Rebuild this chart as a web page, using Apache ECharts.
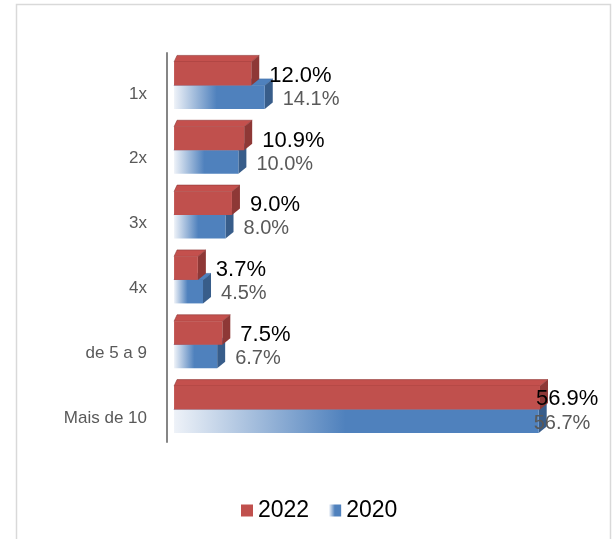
<!DOCTYPE html>
<html><head><meta charset="utf-8">
<script src="https://cdn.jsdelivr.net/npm/echarts@6/dist/echarts.min.js"></script>
<style>html,body{margin:0;padding:0;background:#fff}#c{width:612px;height:539px}</style>
</head><body><div id="c"></div>
<script>
const categories = ['1x', '2x', '3x', '4x', 'de 5 a 9', 'Mais de 10'];
const values2022 = [12.0, 10.9, 9.0, 3.7, 7.5, 56.9];
const values2020 = [14.1, 10.0, 8.0, 4.5, 6.7, 56.7];
const seriesNames = ['2022', '2020'];

const BAR_W = 23.5;
const FONT = '"Liberation Sans", Arial, sans-serif';

const redFront = '#C0504D', redTop = '#C4504D', redSide = '#8E3836';
const blueFront = '#4F81BD', blueTop = '#4F81BD', blueSide = '#385D8A';
const blueGrad = new echarts.graphic.LinearGradient(0, 0, 1, 0, [
  {offset: 0, color: '#eef2f8'},
  {offset: 0.47, color: blueFront},
  {offset: 1, color: blueFront}
]);

function faces(values, upper, topColor, sideColor, edgeColor) {
  return function (params, api) {
    const idx = params.dataIndex;
    const v = values[idx];
    const c0 = api.coord([0, idx]);
    const c1 = api.coord([v, idx]);
    const y0 = upper ? c0[1] - BAR_W : c0[1];
    const y1 = y0 + BAR_W;
    const x0 = c0[0], x1 = c1[0];
    const dxL = 3, dxR = 8, dy = 6.5;
    return {
      type: 'group',
      children: [
        {type: 'polygon', shape: {points: [[x0, y0], [x1, y0], [x1 + dxR, y0 - dy], [x0 + dxL, y0 - dy]]},
         style: {fill: topColor, stroke: edgeColor, lineWidth: 0.6}},
        {type: 'polygon', shape: {points: [[x1, y0], [x1 + dxR, y0 - dy], [x1 + dxR, y1 - dy], [x1, y1]]},
         style: {fill: sideColor}}
      ]
    };
  };
}

function labelData(values, lastOffset) {
  return values.map((v, i) => i === values.length - 1
    ? {value: v, label: {offset: lastOffset}}
    : v);
}

const chart = echarts.init(document.getElementById('c'));
chart.setOption({
  animation: false,
  backgroundColor: '#ffffff',
  graphic: [{
    type: 'rect', shape: {x: 16.5, y: 4.5, width: 594, height: 560},
    style: {fill: 'none', stroke: '#d9d9d9', lineWidth: 1.5}, z: -10
  }],
  grid: {left: 167, right: 13.5, top: 53, height: 389, containLabel: false},
  legend: {
    data: seriesNames, left: 236, top: 494,
    itemWidth: 12, itemHeight: 12, itemGap: 20,
    textStyle: {fontSize: 23, color: '#000', fontFamily: FONT},
    icon: 'rect'
  },
  xAxis: {type: 'value', min: -1.1, max: 66, show: false},
  yAxis: {
    type: 'category', data: categories, inverse: true,
    axisLine: {show: true, onZero: false, lineStyle: {color: '#868686', width: 2}},
    axisTick: {show: false},
    axisLabel: {fontSize: 17, color: '#595959', fontFamily: FONT, margin: 20,
      verticalAlign: 'top', lineHeight: 17}
  },
  series: [
    {
      name: '2022', type: 'bar', data: labelData(values2022, [-22, 1]), barWidth: BAR_W, barGap: 0, z: 4,
      itemStyle: {color: redFront},
      label: {show: true, position: 'right', distance: 18, offset: [0, 2], fontSize: 22, color: '#000', fontFamily: FONT,
        formatter: p => p.value.toFixed(1) + '%'}
    },
    {
      name: '2020', type: 'bar', data: labelData(values2020, [-23, 2]), barWidth: BAR_W, barGap: 0, z: 2,
      itemStyle: {color: blueGrad},
      label: {show: true, position: 'right', distance: 18, offset: [0, 2], fontSize: 20, color: '#595959', fontFamily: FONT,
        formatter: p => p.value.toFixed(1) + '%'}
    },
    {
      type: 'custom', z: 1, silent: true, data: values2020.map((v, i) => [v, i]),
      renderItem: faces(values2020, false, blueTop, blueSide, '#3f6fa8')
    },
    {
      type: 'custom', z: 3, silent: true, data: values2022.map((v, i) => [v, i]),
      renderItem: faces(values2022, true, redTop, redSide, '#8E3836')
    }
  ]
});
</script>
</body></html>
